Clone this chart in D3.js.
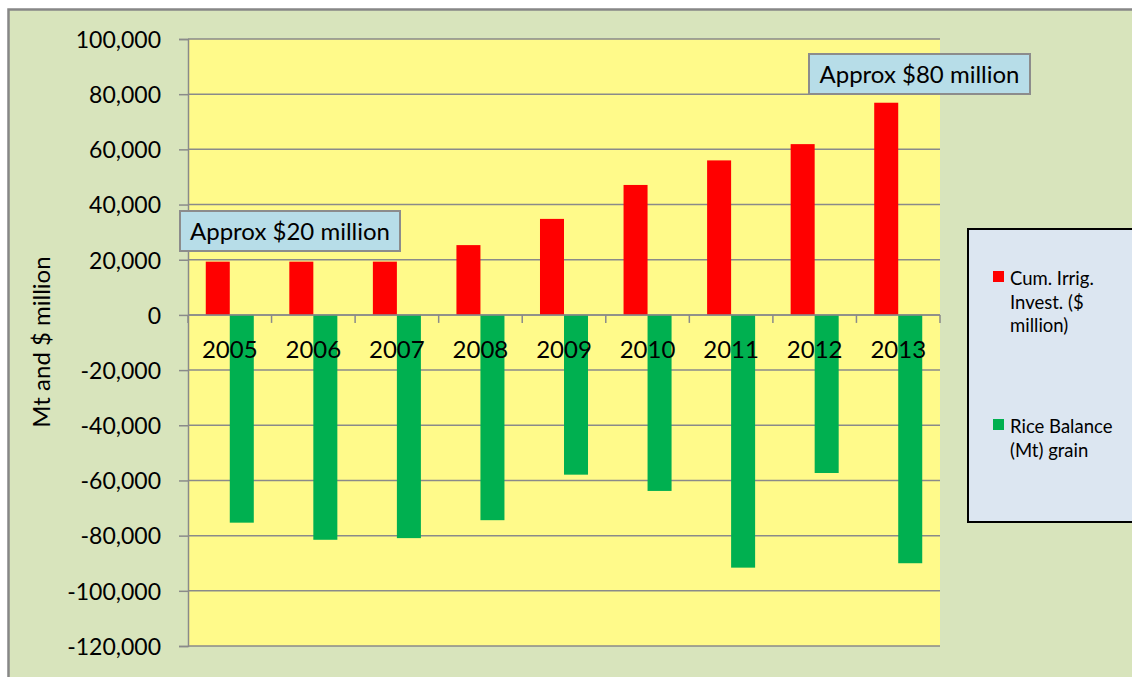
<!DOCTYPE html>
<html>
<head>
<meta charset="utf-8">
<script src="https://cdn.jsdelivr.net/npm/d3@7"></script>
<style>
  html, body { margin: 0; padding: 0; background: #ffffff; }
  svg { display: block; font-family: Lato, "Open Sans", sans-serif; }
</style>
</head>
<body>
<svg id="chart" width="1132" height="677"></svg>
<script>
// Years on the category axis
const years = ["2005", "2006", "2007", "2008", "2009", "2010", "2011", "2012", "2013"];
// Cumulative irrigation investment ($ million)
const irrigInvest = [19300, 19300, 19300, 25300, 34800, 47100, 56000, 61900, 76900];
// Rice balance (Mt) grain
const riceBalance = [-75300, -81500, -80900, -74400, -57900, -63800, -91600, -57300, -90000];
// Value axis ticks
const yTicks = [100000, 80000, 60000, 40000, 20000, 0, -20000, -40000, -60000, -80000, -100000, -120000];
// Series names for the legend
const seriesNames = [["Cum. Irrig.", "Invest. ($", "million)"], ["Rice Balance", "(Mt) grain"]];
const seriesColors = ["#ff0000", "#00b050"];
// Callout texts
const callouts = [
  { text: "Approx $20 million", year: "2005" },
  { text: "Approx $80 million", year: "2013" }
];

const svg = d3.select("#chart");
const W = 1132, H = 677;
const plot = { left: 188, right: 940, top: 39, bottom: 646 };
const gridColor = "#8a8a8a";

// Chart area background and frame
svg.append("rect")
  .attr("x", 8.5).attr("y", 9.5).attr("width", W).attr("height", H)
  .attr("fill", "#d8e4bc").attr("stroke", "#878787").attr("stroke-width", 2.5);

// Scales
const x = d3.scaleBand().domain(years).range([plot.left, plot.right]).paddingInner(0).paddingOuter(0);
const y = d3.scaleLinear().domain([-120000, 100000]).range([plot.bottom, plot.top]);
const barW = x.bandwidth() / 3.48;

// Plot area fill
svg.append("rect")
  .attr("x", plot.left).attr("y", plot.top)
  .attr("width", plot.right - plot.left).attr("height", plot.bottom - plot.top)
  .attr("fill", "#fffa8a");

// Gridlines
svg.append("g").selectAll("line").data(yTicks).join("line")
  .attr("x1", plot.left).attr("x2", plot.right)
  .attr("y1", d => y(d)).attr("y2", d => y(d))
  .attr("stroke", gridColor).attr("stroke-width", 1.5);

// Value axis (plain hyphen for negatives)
const fmt = d3.format(",");
const yAxis = svg.append("g")
  .attr("transform", `translate(${plot.left},0)`)
  .call(d3.axisLeft(y).tickValues(yTicks).tickFormat(d => fmt(d).replace("\u2212", "-")).tickSize(9).tickPadding(18));
yAxis.select(".domain").attr("stroke", gridColor).attr("stroke-width", 1.5);
yAxis.selectAll(".tick line").attr("stroke", gridColor).attr("stroke-width", 1.5);
yAxis.selectAll(".tick text")
  .attr("font-family", "Lato, sans-serif").attr("font-size", 23).attr("fill", "#000")
  .attr("dy", "0.36em");

// Bars: investment (positive)
svg.append("g").selectAll("rect").data(years).join("rect")
  .attr("x", (d) => x(d) + x.bandwidth() / 2 - barW)
  .attr("y", (d, i) => y(irrigInvest[i]))
  .attr("width", barW)
  .attr("height", (d, i) => y(0) - y(irrigInvest[i]))
  .attr("fill", seriesColors[0]);

// Bars: rice balance (negative)
svg.append("g").selectAll("rect").data(years).join("rect")
  .attr("x", (d) => x(d) + x.bandwidth() / 2)
  .attr("y", y(0))
  .attr("width", barW)
  .attr("height", (d, i) => y(riceBalance[i]) - y(0))
  .attr("fill", seriesColors[1]);

// Category axis at zero, ticks between categories
const boundaries = d3.range(years.length + 1).map(i => plot.left + i * x.step());
svg.append("line")
  .attr("x1", plot.left).attr("x2", plot.right)
  .attr("y1", y(0)).attr("y2", y(0))
  .attr("stroke", gridColor).attr("stroke-width", 1.5);
svg.append("g").selectAll("line").data(boundaries).join("line")
  .attr("x1", d => d).attr("x2", d => d)
  .attr("y1", y(0)).attr("y2", y(0) + 8)
  .attr("stroke", gridColor).attr("stroke-width", 1.5);
svg.append("g").selectAll("text").data(years).join("text")
  .attr("x", d => x(d) + x.bandwidth() / 2)
  .attr("y", y(0) + 43)
  .attr("text-anchor", "middle")
  .attr("font-size", 24).attr("fill", "#000")
  .text(d => d);

// Axis title
svg.append("text")
  .attr("transform", `translate(50,342) rotate(-90)`)
  .attr("text-anchor", "middle")
  .attr("font-size", 24).attr("fill", "#000")
  .text("Mt and $ million");

// Callout boxes
const calloutG = svg.append("g");
const boxes = [
  { x: 180, y: 211, w: 220, h: 40 },
  { x: 809, y: 54, w: 221, h: 40 }
];
callouts.forEach((c, i) => {
  const b = boxes[i];
  calloutG.append("rect")
    .attr("x", b.x).attr("y", b.y).attr("width", b.w).attr("height", b.h)
    .attr("fill", "#b7dde8").attr("stroke", "#8c8c8c").attr("stroke-width", 2);
  calloutG.append("text")
    .attr("x", b.x + b.w / 2).attr("y", b.y + 29)
    .attr("text-anchor", "middle")
    .attr("font-size", 24).attr("fill", "#000")
    .text(c.text);
});

// Legend
const lg = svg.append("g");
lg.append("rect")
  .attr("x", 968).attr("y", 229).attr("width", 180).attr("height", 293)
  .attr("fill", "#dce6f1").attr("stroke", "#000").attr("stroke-width", 2);
const legendTop = [271, 419];
seriesNames.forEach((lines, i) => {
  lg.append("rect")
    .attr("x", 993).attr("y", legendTop[i]).attr("width", 11).attr("height", 11)
    .attr("fill", seriesColors[i]);
  lines.forEach((t, j) => {
    lg.append("text")
      .attr("x", 1010).attr("y", legendTop[i] + 14 + j * 23.5)
      .attr("font-size", 18.5).attr("fill", "#000")
      .text(t);
  });
});
</script>
</body>
</html>
